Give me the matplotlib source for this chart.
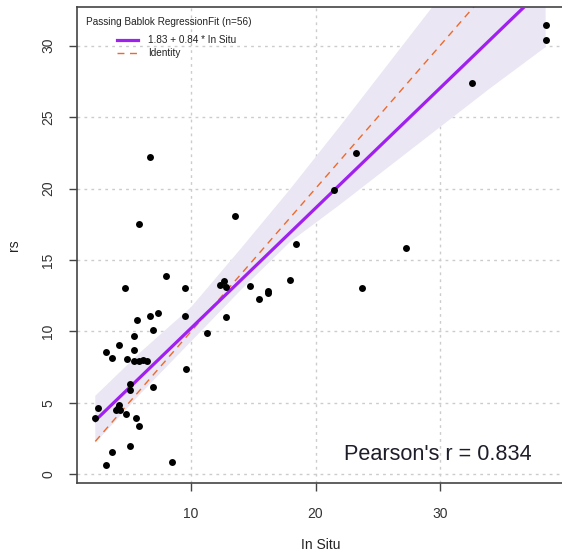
import numpy as np
import matplotlib
matplotlib.use("Agg")
import matplotlib.pyplot as plt
from matplotlib.lines import Line2D

# Paired measurements: in situ reference vs. rs estimate
in_situ = [6.68, 5.79, 8.02, 4.67, 9.49, 7.35, 6.68, 5.69, 9.49, 6.92,
           5.45, 4.21, 3.20, 5.45, 3.65, 4.88, 5.45, 5.79, 6.11, 6.47,
           9.62, 5.12, 5.12, 6.92, 2.55, 2.31, 4.21, 4.11, 4.00, 4.32,
           4.78, 5.55, 5.79, 5.12, 3.65, 3.20, 8.47, 13.50, 18.46, 17.98,
           12.35, 12.62, 12.84, 14.76, 16.21, 16.21, 15.43, 12.84, 11.28, 23.28,
           21.45, 27.29, 23.70, 32.57, 38.48, 38.48]
rs = [22.19, 17.50, 13.90, 13.03, 13.03, 11.28, 11.07, 10.77, 11.07, 10.09,
      9.70, 9.02, 8.55, 8.72, 8.13, 8.04, 7.95, 7.95, 8.02, 7.95,
      7.39, 6.29, 5.92, 6.11, 4.64, 3.94, 4.83, 4.64, 4.52, 4.52,
      4.24, 3.94, 3.36, 2.00, 1.54, 0.63, 0.84, 18.11, 16.13, 13.61,
      13.26, 13.50, 13.10, 13.15, 12.82, 12.68, 12.26, 11.00, 9.91, 22.47,
      19.93, 15.85, 13.03, 27.37, 31.47, 30.37]

# Passing-Bablok fit and correlation
intercept = 1.83
slope = 0.84
pearson_r = 0.834

# Confidence band of the fitted line
band_x = [2.31, 6.0, 10.0, 14.0, 18.0, 22.0, 26.0, 30.0, 34.0, 38.48]
band_lower = [2.2, 5.7, 9.3, 12.9, 16.3, 18.9, 21.6, 24.3, 27.0, 29.9]
band_upper = [5.5, 8.6, 11.7, 15.8, 20.0, 24.4, 28.9, 33.4, 37.9, 42.9]

x_ticks = [10, 20, 30]
y_ticks = [0, 5, 10, 15, 20, 25, 30]

plt.rcParams['font.family'] = ['Liberation Sans', 'DejaVu Sans']

W, H = 562, 554
fig = plt.figure(figsize=(W / 100, H / 100), dpi=100)
ax = fig.add_axes([77.3 / W, 1 - 483 / H, (563.6 - 77.3) / W, (483 - 7) / H])

x = np.array(in_situ)
y = np.array(rs)
xr = x.max() - x.min()
yr = y.max() - y.min()
ax.set_xlim(x.min() - 0.04 * xr, x.max() + 0.04 * xr)
ax.set_ylim(y.min() - 0.04 * yr, y.max() + 0.04 * yr)

# grid
for gx in x_ticks:
    ax.axvline(gx, color='#cccccc', lw=1.0, ls=(0, (2, 3)), zorder=0)
for gy in y_ticks:
    ax.axhline(gy, color='#cccccc', lw=1.0, ls=(0, (2, 3)), zorder=0)

# band, fit, identity
ax.fill_between(band_x, band_lower, band_upper, color='#eae6f3', lw=0, zorder=1)
lx = np.array([x.min(), x.max()])
ax.plot(lx, lx, color='#ee6a2b', lw=1.0, ls=(0, (5, 4)), zorder=2)
ax.plot(lx, intercept + slope * lx, color='#a020f0', lw=2.3, zorder=3)

ax.scatter(x, y, s=25, color='black', lw=0, zorder=4)

# axes styling
ax.set_xticks(x_ticks)
ax.set_yticks(y_ticks)
for side in ['left', 'bottom', 'top', 'right']:
    ax.spines[side].set_color('#444444')
    ax.spines[side].set_linewidth(1.2)
ax.tick_params(axis='both', length=6, width=1.0, color='#444444',
               labelsize=10, labelcolor='#333333')
ax.tick_params(axis='x', pad=11)
ax.tick_params(axis='y', pad=10)
for lab in ax.get_yticklabels():
    lab.set_rotation(90)
    lab.set_va('center')

fig.text(320.5 / W, 1 - 545 / H, 'In Situ', ha='center', va='center',
         fontsize=10, color='#222222')
fig.text(14 / W, 1 - 245 / H, 'rs', ha='center', va='center',
         rotation=90, fontsize=10, color='#222222')

# legend
fig.text(86 / W, 1 - 22 / H, 'Passing Bablok RegressionFit (n=56)',
         ha='left', va='center', fontsize=7.2, color='#222222')
fig.add_artist(Line2D([117 / W, 138 / W], [1 - 40 / H, 1 - 40 / H],
                      color='#a020f0', lw=2.3, transform=fig.transFigure))
fig.add_artist(Line2D([117 / W, 138 / W], [1 - 53 / H, 1 - 53 / H],
                      color='#ee6a2b', lw=1.0, ls=(0, (5, 4)),
                      transform=fig.transFigure))
fig.text(148 / W, 1 - 40 / H, f'{intercept:.2f} + {slope:.2f} * In Situ',
         ha='left', va='center', fontsize=7.2, color='#222222')
fig.text(148 / W, 1 - 53 / H, 'Identity',
         ha='left', va='center', fontsize=7.2, color='#222222')

fig.text(438 / W, 1 - 455 / H, f"Pearson's r = {pearson_r:.3f}",
         ha='center', va='center', fontsize=15.6, color='#1e1e2a')

fig.savefig('out.png', dpi=100)
